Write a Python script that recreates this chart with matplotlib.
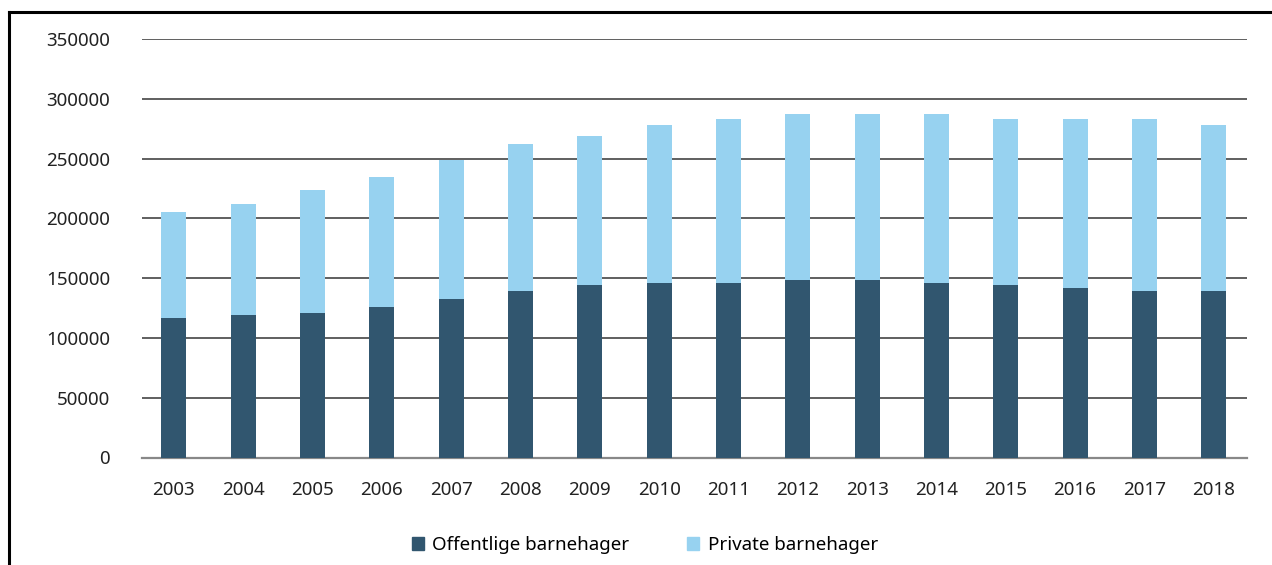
import matplotlib.pyplot as plt
from matplotlib.lines import Line2D
from matplotlib.patches import Patch
import numpy as np

plt.rcParams['font.family'] = ['Noto Sans', 'DejaVu Sans']

years = ['2003', '2004', '2005', '2006', '2007', '2008', '2009', '2010',
         '2011', '2012', '2013', '2014', '2015', '2016', '2017', '2018']
offentlige = [117000, 119000, 121000, 125500, 132500, 139500, 144000, 146000,
              146000, 148500, 148500, 146000, 144000, 141500, 139500, 139500]
totalt = [205500, 212000, 223500, 235000, 248500, 262500, 269000, 278000,
          283000, 287000, 287000, 287000, 283000, 283000, 283000, 278000]
private = [t - o for t, o in zip(totalt, offentlige)]
yticks = [0, 50000, 100000, 150000, 200000, 250000, 300000, 350000]

dark = '#31566f'
light = '#97d2f0'

fig = plt.figure(figsize=(12.72, 5.65), dpi=100)
ax = fig.add_axes([142/1272, 1 - 457.5/565, (1247-142)/1272, (457.5-39)/565])

x = np.arange(len(years))
ax.bar(x, offentlige, width=0.36, color=dark, zorder=3)
ax.bar(x, private, width=0.36, bottom=offentlige, color=light, zorder=3)

ax.set_ylim(0, 350000)
ax.set_xlim(-0.46, 15.48)
ax.set_yticks(yticks)
ax.set_yticklabels([str(v) for v in yticks], fontsize=13.5, color='#222222')
ax.set_xticks(x)
ax.set_xticklabels(years, fontsize=13.5, color='#222222')
ax.tick_params(axis='y', length=0, pad=23)
ax.tick_params(axis='x', length=0, pad=17)
for v in yticks[1:]:
    ax.axhline(v, color='#444444', lw=1.2, zorder=1)
for s in ['top', 'right', 'left']:
    ax.spines[s].set_visible(False)
ax.spines['bottom'].set_color('#888888')
ax.spines['bottom'].set_linewidth(1.6)

handles = [Patch(color=dark, label='Offentlige barnehager'),
           Patch(color=light, label='Private barnehager')]
fig.legend(handles=handles, loc='center', bbox_to_anchor=(0.507, 1 - 545/565),
           ncol=2, frameon=False, fontsize=13.5, handlelength=0.64,
           handleheight=0.64, handletextpad=0.45, columnspacing=3.1)

# frame along top and left edge
fig.add_artist(Line2D([9/1272, 9/1272], [0, 1 - 12/565], color='black', lw=2.2,
                      transform=fig.transFigure))
fig.add_artist(Line2D([9/1272, 1], [1 - 12/565, 1 - 12/565], color='black', lw=2.2,
                      transform=fig.transFigure))

fig.savefig('out.png', dpi=100)
